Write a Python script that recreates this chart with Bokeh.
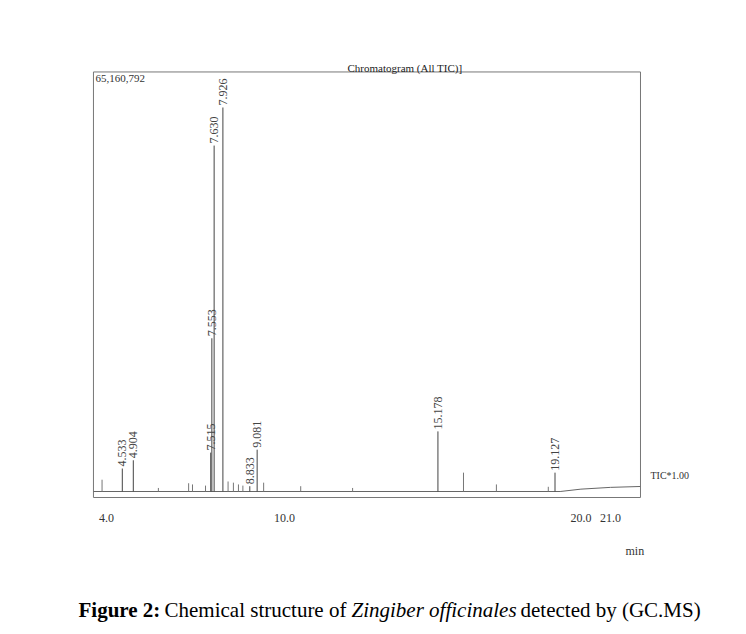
from bokeh.plotting import figure
from bokeh.models import Range1d, ColumnDataSource
from bokeh.core.properties import value
from bokeh.embed import file_html
from bokeh.resources import INLINE

# ---- data (retention time in min, intensity in millions of counts) ----
peak_rt = [4.533, 4.904, 7.515, 7.553, 7.630, 7.926, 8.833, 9.081, 15.178, 19.127]
peak_h = [3.9, 5.3, 6.6, 26.0, 58.7, 65.16, 0.9, 7.1, 10.2, 3.2]

minor_rt = [3.85, 5.75, 6.77, 6.90, 7.34, 8.10, 8.28, 8.45, 8.60, 9.30, 10.55, 12.30, 16.04, 17.15, 18.90]
minor_h = [2.0, 0.6, 1.4, 1.2, 1.0, 1.7, 1.5, 1.2, 1.0, 1.5, 0.9, 0.6, 3.2, 1.2, 0.8]

base_t = [3.56, 19.3, 20.0, 21.0, 22.0]
base_v = [0.0, 0.0, 0.4, 0.7, 0.85]

x_ticks = [4.0, 10.0, 20.0, 21.0]
max_label = "65,160,792"
title_text = "Chromatogram (All TIC)]"

# chart box extents (time, intensity)
box_x = (3.56, 22.01)
box_y = (-1.02, 71.19)

# ---- figure: the canvas spans the whole page, the chart box is drawn inside it ----
W, H = 730, 626
PXT = 29.65            # pixels per minute
k = 65.16 / 384.0      # intensity per pixel
x0 = 4 - 106 / PXT
y1 = 491 * k
p = figure(width=W, height=H, output_backend="svg", toolbar_location=None,
           x_range=Range1d(x0, x0 + W / PXT), y_range=Range1d(y1 - H * k, y1),
           x_axis_location=None, y_axis_location=None,
           min_border=0)
p.grid.visible = False
p.outline_line_color = None
p.background_fill_color = "white"
p.border_fill_color = "white"

# chart box
p.quad(left=[box_x[0]], right=[box_x[1]], bottom=[box_y[0]], top=[box_y[1]],
       fill_color=None, line_color="#777777", line_width=1)

# baseline
p.line(base_t, base_v, line_color="#666666", line_width=1)

# minor peaks
p.segment(x0=minor_rt, y0=[0] * len(minor_rt), x1=minor_rt, y1=minor_h,
          line_color="#777777", line_width=1)

# labelled peaks
p.segment(x0=peak_rt, y0=[0] * len(peak_rt), x1=peak_rt, y1=peak_h,
          line_color="#444444", line_width=1)

src = ColumnDataSource(dict(x=peak_rt, y=[h + 2 * k for h in peak_h],
                            t=["%.3f" % r for r in peak_rt]))
p.text(x="x", y="y", text="t", source=src, angle=1.5708,
       text_align="left", text_baseline="middle",
       text_font=value("Liberation Serif"), text_font_size="12px", text_color="#444444")

# x tick labels
p.text(x=x_ticks, y=[box_y[0] - 16 * k] * len(x_ticks), text=["%.1f" % t for t in x_ticks],
       text_align="center", text_baseline="top",
       text_font=value("Liberation Serif"), text_font_size="12px", text_color="#333333")

# other texts
def txt(x, y, s, size="13px", style="normal", baseline="alphabetic", color="#333333"):
    p.text(x=[x], y=[y], text=[s], text_align="left", text_baseline=baseline,
           text_font=value("Liberation Serif"), text_font_size=size,
           text_font_style=style, text_color=color)

def tx(sx):
    return 4 + (sx - 106) / PXT

def ty(sy):
    return (491 - sy) * k

txt(tx(95), ty(74), max_label, size="11px", baseline="top")
txt(tx(347), ty(67), title_text, size="11px", color="#222222")
txt(tx(650), ty(475), "TIC*1.00", size="10px")
txt(tx(625), ty(550), "min", size="12px")

# caption
parts = [("Figure 2:", 78, "bold"), ("Chemical structure of", 164, "normal"),
         ("Zingiber officinales", 351, "italic"), ("detected by (GC.MS)", 520, "normal")]
for s, sx, style in parts:
    txt(tx(sx), ty(609), s, size="21px", style=style, color="#000000")

open("out.html", "w").write(file_html(p, INLINE))
